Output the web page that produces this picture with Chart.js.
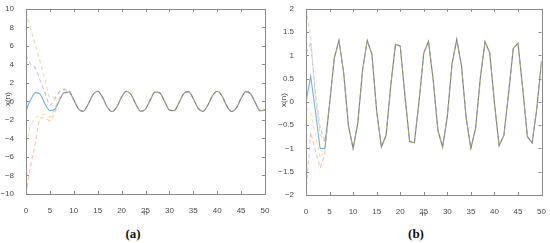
<!DOCTYPE html>
<html>
<head>
<meta charset="utf-8">
<script src="https://cdn.jsdelivr.net/npm/chart.js@4.4.1/dist/chart.umd.min.js"></script>
<style>
  html, body { margin: 0; padding: 0; background: #fff; }
  #page { position: relative; width: 550px; height: 243px; overflow: hidden; }
  .panel { position: absolute; top: 0; width: 275px; }
  .cap { position: absolute; top: 226px; font: bold 13px 'Liberation Serif', 'DejaVu Serif', serif; color: #111; transform: translateX(-50%); }
  .ylab { position: absolute; font: 8px 'Liberation Sans', Arial, sans-serif; color: #4a4a4a;
          transform: translate(-50%, -50%) rotate(-90deg); white-space: nowrap; }
</style>
</head>
<body>
<div id="page">
  <div class="panel" style="left:0;height:220px"><canvas id="chartA"></canvas></div>
  <div class="panel" style="left:275px;height:221px"><canvas id="chartB"></canvas></div>
  <div class="ylab" style="left:7px;top:99px">x(n)</div>
  <div class="ylab" style="left:283px;top:100px">x(n)</div>
  <div class="cap" style="left:133px">(a)</div>
  <div class="cap" style="left:416px">(b)</div>
</div>
<script>
/* ── DATA ─────────────────────────────────────────────────── */
const nValues = [0,1,2,3,4,5,6,7,8,9,10,11,12,13,14,15,16,17,18,19,20,21,22,23,24,25,
  26,27,28,29,30,31,32,33,34,35,36,37,38,39,40,41,42,43,44,45,46,47,48,49,50];
const xTicks = [0,5,10,15,20,25,30,35,40,45,50];
const yTicksA = [-10,-8,-6,-4,-2,0,2,4,6,8,10];
const yTicksB = [-2,-1.5,-1,-0.5,0,0.5,1,1.5,2];

// panel (a): first samples differ per series, n = 0..9
const blueHeadA   = [-1.0, 0.2, 0.95, 0.75, -0.3, -1.0, -0.85, 0.1, 0.95, 1.0];
const orangeHeadA = [-10, -6.9, -4.4, -1.8, -1.8, -2.1, -1.2, 0.2, 0.9, 1.0];
const yellowHeadA = [-4.6, -2.6, -1.8, -1.5, -1.4, -1.7, -0.8, 0.4, 1.0, 1.05];
const purpleHeadA = [5.0, 4.0, 3.6, 2.2, 0.9, -0.4, 0.2, 1.0, 1.25, 1.15];
const greenHeadA  = [9.6, 7.8, 6.0, 4.2, 2.3, 0.4, 0.4, 1.1, 1.35, 1.25];
// panel (a): common trajectory, n = 10..50
const tailA = [0.16, -0.83, -1.06, -0.31, 0.72, 1.09, 0.46, -0.60, -1.10, -0.60,
  0.47, 1.09, 0.72, -0.32, -1.06, -0.83, 0.17, 1.01, 0.91, -0.01,
  -0.92, -1.00, -0.15, 0.84, 1.06, 0.30, -0.73, -1.09, -0.45, 0.61,
  1.10, 0.59, -0.48, -1.09, -0.71, 0.33, 1.06, 0.82, -0.17, -1.01, -0.91];

// panel (b): first samples differ per series, n = 0..4
const blueHeadB   = [0.0, 0.55, -0.2, -1.0, -1.0];
const orangeHeadB = [-1.95, -0.65, -1.05, -1.42, -1.12];
const yellowHeadB = [-0.1, -0.25, -0.7, -1.2, -1.05];
const purpleHeadB = [1.05, 1.25, 0.2, -0.55, -0.85];
const greenHeadB  = [2.0, 1.4, 0.1, -0.7, -0.85];
// panel (b): common trajectory, n = 5..50
const tailB = [-0.05, 0.94, 1.32, 0.62, -0.51, -1.00, -0.45, 0.68, 1.32, 1.02,
  -0.20, -0.97, -0.72, 0.36, 1.24, 1.20, 0.13, -0.85, -0.88, 0.01,
  1.05, 1.30, 0.47, -0.61, -0.97, -0.31, 0.82, 1.34, 0.78, -0.35,
  -1.00, -0.57, 0.51, 1.29, 1.06, -0.03, -0.94, -0.72, 0.18, 1.15,
  1.26, 0.29, -0.75, -0.88, -0.14, 0.88];

/* ── STYLE ────────────────────────────────────────────────── */
const FONT = { family: "'Liberation Sans', Arial, sans-serif", size: 8 };
const TEXT = '#4a4a4a';
const AXIS = '#8a8a8a';

const seriesStyle = [
  { key: 'green',  color: 'rgba(119,172,48,0.32)',  dash: [4, 3] },
  { key: 'purple', color: 'rgba(126,47,142,0.3)',   dash: [4, 3] },
  { key: 'yellow', color: 'rgba(237,177,32,0.38)',  dash: [4, 3] },
  { key: 'orange', color: 'rgba(217,83,25,0.34)',   dash: [4, 3] },
  { key: 'blue',   color: 'rgba(0,114,189,0.55)',   dash: [] }
];

const minusFmt = v => (v < 0 ? '\u2212' + Math.abs(v) : String(v));

// MATLAB-style box with inward ticks on all four sides
const boxTicks = {
  id: 'boxTicks',
  afterDraw(chart) {
    const { ctx, chartArea: a, scales: { x, y } } = chart;
    ctx.save();
    ctx.strokeStyle = AXIS;
    ctx.lineWidth = 1;
    ctx.strokeRect(Math.round(a.left) + 0.5, Math.round(a.top) + 0.5,
      Math.round(a.width), Math.round(a.height));
    ctx.beginPath();
    x.ticks.forEach(t => {
      const px = Math.round(x.getPixelForValue(t.value)) + 0.5;
      ctx.moveTo(px, a.bottom); ctx.lineTo(px, a.bottom - 3);
      ctx.moveTo(px, a.top); ctx.lineTo(px, a.top + 3);
    });
    y.ticks.forEach(t => {
      const py = Math.round(y.getPixelForValue(t.value)) + 0.5;
      ctx.moveTo(a.left, py); ctx.lineTo(a.left + 3, py);
      ctx.moveTo(a.right, py); ctx.lineTo(a.right - 3, py);
    });
    ctx.stroke();
    ctx.restore();
  }
};

function buildDatasets(heads, tail, smooth) {
  return seriesStyle.map(s => ({
    label: s.key,
    data: heads[s.key].concat(tail),
    borderColor: s.color,
    borderDash: s.dash,
    borderWidth: 1.1,
    pointRadius: 0,
    fill: false,
    tension: smooth ? 0.4 : 0,
    cubicInterpolationMode: smooth ? 'monotone' : 'default'
  }));
}

function renderPanel(canvasId, datasets, yMin, yMax, yTicks, yWidth, padRight, padTop) {
  const ctx = document.getElementById(canvasId);
  return new Chart(ctx, {
    type: 'line',
    data: { labels: nValues, datasets },
    options: {
      responsive: true,
      maintainAspectRatio: false,
      animation: false,
      layout: { padding: { top: padTop, right: padRight, left: 0, bottom: 0 } },
      plugins: { legend: { display: false }, tooltip: { enabled: false } },
      scales: {
        x: {
          type: 'linear',
          min: 0, max: 50,
          grid: { display: false },
          border: { display: false },
          afterBuildTicks: s => { s.ticks = xTicks.map(v => ({ value: v })); },
          afterFit: s => { s.height = 26; },
          ticks: { autoSkip: false, maxRotation: 0, padding: 4, color: TEXT, font: FONT },
          title: { display: true, text: 'n', color: TEXT, font: FONT, padding: { top: 0, bottom: 2 } }
        },
        y: {
          min: yMin, max: yMax,
          grid: { display: false },
          border: { display: false },
          afterBuildTicks: s => { s.ticks = yTicks.map(v => ({ value: v })); },
          afterFit: s => { s.width = yWidth; },
          ticks: { autoSkip: false, padding: 4, color: TEXT, font: FONT, callback: minusFmt }
        }
      }
    },
    plugins: [boxTicks]
  });
}

renderPanel('chartA',
  buildDatasets({ blue: blueHeadA, orange: orangeHeadA, yellow: yellowHeadA, purple: purpleHeadA, green: greenHeadA }, tailA, true),
  -10, 10, yTicksA, 26, 10, 5);

renderPanel('chartB',
  buildDatasets({ blue: blueHeadB, orange: orangeHeadB, yellow: yellowHeadB, purple: purpleHeadB, green: greenHeadB }, tailB, false),
  -2, 2, yTicksB, 31, 6, 6);
</script>
</body>
</html>
